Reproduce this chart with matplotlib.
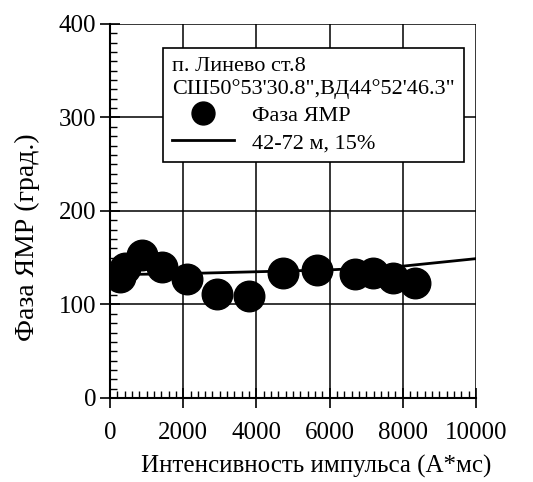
import matplotlib.pyplot as plt

plt.rcParams['font.family'] = ['Liberation Serif', 'DejaVu Serif']

# Фаза ЯМР: измеренные точки
intensity = [270, 410, 870, 1420, 2100, 2920, 3800, 4730, 5660, 6690, 7190, 7730, 8330]
phase = [129, 139, 153, 140, 127, 111, 109, 134, 137, 133, 134, 128, 123]

# модельная кривая 42-72 м, 15%
model_x = [300, 2000, 4000, 6000, 8000, 10000]
model_y = [132, 133, 135, 137, 141, 149]

fig = plt.figure(figsize=(5.33, 4.82), dpi=100)
ax = fig.add_axes([0.2064, 0.1743, 0.6867, 0.7760])

pts, = ax.plot(intensity, phase, 'o', color='black', ms=22, label='Фаза ЯМР', zorder=3)
ln, = ax.plot(model_x, model_y, color='black', lw=2, label='42-72 м, 15%', zorder=2)

ax.set_xlim(0, 10000)
ax.set_ylim(0, 400)
ax.set_xticks(range(0, 10001, 2000))
ax.set_yticks(range(0, 401, 100))
ax.set_xticks(range(0, 10001, 200), minor=True)
ax.set_yticks(range(0, 401, 10), minor=True)
ax.tick_params(which='major', direction='inout', length=14, width=1.2, labelsize=18)
ax.tick_params(axis='x', which='major', pad=10)
ax.tick_params(axis='y', which='major', pad=3)
ax.tick_params(which='minor', direction='in', length=5, width=1)
ax.grid(True, which='major', color='black', lw=1.1)
for s in ['top', 'right']:
    ax.spines[s].set_visible(False)
for s in ['left', 'bottom']:
    ax.spines[s].set_linewidth(1.5)

ax.set_xlabel('Интенсивность импульса (А*мс)', fontsize=18)
ax.xaxis.set_label_coords(0.563, -0.152)
ax.set_ylabel('Фаза ЯМР (град.)', fontsize=20)
ax.yaxis.set_label_coords(-0.19, 0.43)

leg = ax.legend([pts, ln], ['Фаза ЯМР', '42-72 м, 15%'],
                title="п. Линево ст.8\nСШ50°53'30.8\",ВД44°52'46.3\"",
                loc='upper left', bbox_to_anchor=(0.145, 0.936), fontsize=16,
                title_fontsize=16, frameon=True, fancybox=False, framealpha=1,
                edgecolor='black', borderpad=0.4, handlelength=2.8,
                markerscale=0.75, labelspacing=0.3, borderaxespad=0)
leg.get_frame().set_linewidth(1.2)
leg._legend_box.align = 'left'

fig.savefig('out.png', dpi=100)
